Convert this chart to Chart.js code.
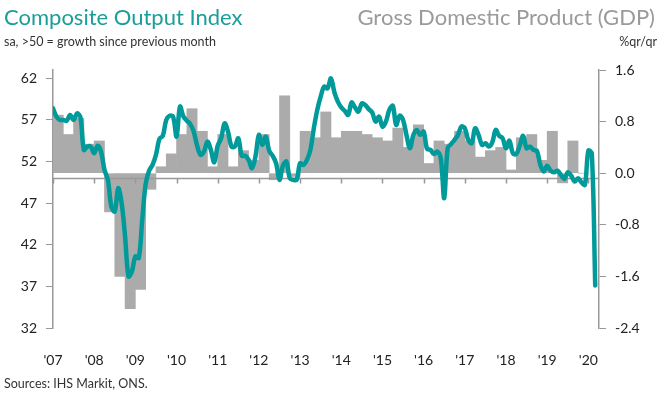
<!DOCTYPE html>
<html>
<head>
<meta charset="utf-8">
<script src="https://cdn.jsdelivr.net/npm/chart.js@4/dist/chart.umd.min.js"></script>
<style>
  body { margin: 0; background: #fff; }
  #wrap { position: relative; width: 664px; height: 394px; font-family: Lato, sans-serif; }
  #wrap canvas { position: absolute; left: 0; top: 0; }
  .t { position: absolute; white-space: nowrap; }
  .big { font-size: 22px; top: 3px; }
</style>
</head>
<body>
<div id="wrap">
  <canvas id="chart" width="664" height="394"></canvas>
  <div class="t big" style="left:4px; color:#1a9e99;">Composite Output Index</div>
  <div class="t big" style="right:9px; color:#9a9a9a;">Gross Domestic Product (GDP)</div>
  <div class="t" style="left:4px; top:34px; font-size:12.5px; color:#333;">sa, &gt;50 = growth since previous month</div>
  <div class="t" style="right:7px; top:34px; font-size:12.5px; color:#333;">%qr/qr</div>
  <div class="t" style="left:4px; top:376px; font-size:12.5px; color:#333;">Sources: IHS Markit, ONS.</div>
</div>
<script>
// x axis labels, one per January
const years = ["'07", "'08", "'09", "'10", "'11", "'12", "'13", "'14", "'15", "'16", "'17", "'18", "'19", "'20"];
const leftTicks = [32, 37, 42, 47, 52, 57, 62];
const rightTicks = [-2.4, -1.6, -0.8, 0.0, 0.8, 1.6];

// Composite output index, monthly Jan 2007 - Mar 2020
const pmi = [
  58.4, 57.4, 57.0, 57.0, 56.9, 57.6, 57.0, 57.8, 57.3, 53.4, 53.8, 53.8,
  53.0, 53.9, 53.2, 51.0, 49.8, 46.6, 46.0, 48.8, 47.0, 43.0, 38.2, 38.8,
  40.6, 40.4, 45.0, 49.3, 50.9, 51.6, 52.8, 54.7, 55.1, 57.0, 57.5, 57.4,
  55.0, 58.6, 57.4, 56.9, 56.5, 55.6, 53.9, 52.8, 53.2, 54.4, 53.4, 51.9,
  53.9, 54.8, 56.6, 55.6, 53.8, 53.8, 54.8, 52.7, 52.7, 52.2, 51.2, 52.6,
  55.2, 54.0, 55.0, 53.3, 52.7, 51.8, 49.8, 51.5, 52.0, 50.0, 49.8, 49.8,
  51.8, 51.6, 52.2, 53.4, 56.0, 58.2, 59.8, 61.0, 60.8, 62.0, 60.3, 59.2,
  58.5, 58.1, 57.6, 59.1, 58.5, 58.0, 59.0, 58.8, 58.3, 57.9, 56.8, 57.4,
  56.2, 56.8, 58.2, 58.7, 56.4, 57.5, 57.0, 55.2, 53.6, 55.2, 55.8, 55.2,
  55.6, 53.5, 53.4, 52.9, 53.2, 52.4, 47.6, 53.6, 54.1, 54.6, 55.2, 56.2,
  56.0, 54.6, 54.2, 56.0, 55.2, 54.0, 54.2, 53.8, 54.3, 55.8, 55.1, 54.8,
  53.6, 54.5, 53.0, 52.9, 53.9, 55.1, 53.6, 53.8, 53.4, 53.3, 51.6, 50.8,
  51.5, 50.9, 50.7, 50.9, 50.4, 49.9, 50.7, 50.3, 49.6, 50.0, 49.5, 49.2,
  53.3, 53.0, 37.1
];

// GDP %q/q, quarterly Q1 2007 - Q4 2019
const gdp = [
  0.9, 0.6, 0.85, 0.45,
  0.5, -0.6, -1.6, -2.1,
  -1.8, -0.25, 0.1, 0.3,
  0.6, 1.0, 0.65, 0.1,
  0.6, 0.1, 0.35, 0.2,
  0.6, -0.1, 1.2, -0.05,
  0.65, 0.55, 0.95, 0.55,
  0.65, 0.65, 0.6, 0.55,
  0.5, 0.7, 0.4, 0.75,
  0.15, 0.5, 0.45, 0.65,
  0.5, 0.25, 0.35, 0.4,
  0.05, 0.55, 0.6, 0.2,
  0.65, -0.15, 0.5, 0.0
];

// the 50 line with year ticks, drawn over the bars but under the PMI line
const axisLine = {
  id: 'axisLine',
  afterDatasetDraw(chart, args) {
    if (args.meta.type !== 'bar') return;
    const { ctx, scales: { x, y } } = chart;
    const yy = Math.round(y.getPixelForValue(50)) + 0.5;
    ctx.save();
    ctx.strokeStyle = '#999';
    ctx.lineWidth = 1.5;
    ctx.beginPath();
    ctx.moveTo(x.left, yy);
    ctx.lineTo(x.right, yy);
    years.forEach((_, i) => {
      const px = Math.round(x.getPixelForValue(i * 12)) + 0.5;
      ctx.moveTo(px, yy);
      ctx.lineTo(px, yy + 5);
    });
    ctx.stroke();
    ctx.restore();
  }
};

Chart.defaults.font.family = 'Lato';
Chart.defaults.color = '#222';

new Chart(document.getElementById('chart'), {
  type: 'bar',
  data: {
    datasets: [{
      type: 'line',
      data: pmi.map((v, i) => ({ x: i, y: v })),
      yAxisID: 'y',
      borderColor: '#009a9a',
      borderWidth: 4.5,
      pointRadius: 0,
      tension: 0.35,
      borderCapStyle: 'round',
      borderJoinStyle: 'round',
      order: 1
    }, {
      type: 'bar',
      data: gdp.map((v, q) => ({ x: q * 3 + 1.5, y: v })),
      yAxisID: 'y1',
      backgroundColor: '#ababab',
      borderWidth: 0,
      barPercentage: 1,
      categoryPercentage: 1,
      order: 2
    }]
  },
  options: {
    responsive: false,
    animation: false,
    devicePixelRatio: 1,
    layout: { padding: { top: 70 } },
    plugins: { legend: { display: false }, tooltip: { enabled: false } },
    scales: {
      x: {
        type: 'linear',
        min: 0,
        max: 159.1,
        offset: false,
        grid: { display: false },
        border: { display: false },
        afterBuildTicks: s => { s.ticks = years.map((_, i) => ({ value: i * 12 })); },
        ticks: {
          autoSkip: false,
          maxRotation: 0,
          padding: 16,
          font: { size: 14 },
          callback: (v, i) => years[i]
        },
        afterFit: s => { s.height = 66; }
      },
      y: {
        position: 'left',
        min: 32,
        max: 63,
        afterBuildTicks: s => { s.ticks = leftTicks.map(v => ({ value: v })); },
        grid: { drawOnChartArea: false, tickLength: 7, color: '#999' },
        border: { color: '#999', width: 1.5 },
        ticks: { padding: 9, font: { size: 14 } },
        afterFit: s => { s.width = 53; }
      },
      y1: {
        position: 'right',
        min: -2.4,
        max: 1.6,
        afterBuildTicks: s => { s.ticks = rightTicks.map(v => ({ value: v })); },
        grid: { drawOnChartArea: false, tickLength: 7, color: '#999' },
        border: { color: '#999', width: 1.5 },
        ticks: { padding: 9, font: { size: 14 }, callback: v => v.toFixed(1) },
        afterFit: s => { s.width = 65; }
      }
    }
  },
  plugins: [axisLine]
});
</script>
</body>
</html>
